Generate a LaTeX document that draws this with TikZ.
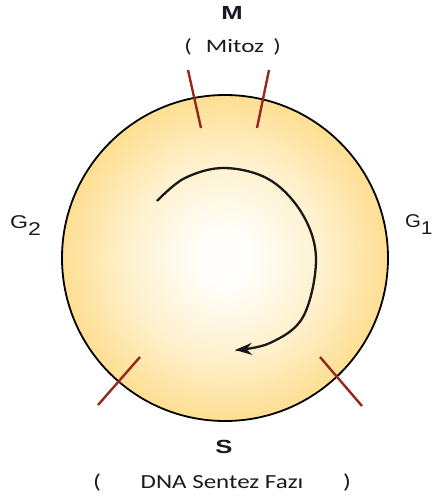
\documentclass[tikz,border=0pt]{standalone}
\usepackage{fontspec}
\usepackage{graphicx}
\setmainfont{Liberation Sans}
\newfontfamily\calfont{Carlito}
\usetikzlibrary{arrows.meta}
\definecolor{cellout}{RGB}{254,222,146}
\definecolor{cellmid}{RGB}{255,241,205}
\definecolor{cellin}{RGB}{255,254,250}
\definecolor{tickred}{RGB}{150,40,32}
\definecolor{txtcol}{RGB}{25,25,35}
\pgfdeclareradialshading{cellshade}{\pgfpoint{0bp}{0bp}}{color(0bp)=(cellin); color(4bp)=(cellin); color(15bp)=(cellmid); color(25bp)=(cellout); color(50bp)=(cellout)}
\tikzset{
  cell/.style={circle, draw=black, line width=1.8pt, inner sep=0pt, minimum size=326pt,
    shading=cellshade},
  tick/.style={draw=tickred, line width=2.4pt},
  lbl/.style={inner sep=0pt, text=txtcol, anchor=base},
  cyclearrow/.style={draw=black!90, line width=2.3pt, -{Stealth[length=17pt,width=12pt]}}
}
\begin{document}
\begin{tikzpicture}[x=1pt,y=-1pt]
\useasboundingbox (0,0) rectangle (435,499);
\node[cell] (cell) at (225,258) {};
% phase ticks
\draw[tick] (188,70) -- (201,128);
\draw[tick] (269,70) -- (257,128);
\draw[tick] (140,357) -- (98,405);
\draw[tick] (320,357) -- (362,406);
% cycle arrow
\draw[cyclearrow] plot[smooth, tension=0.6] coordinates {(157,201) (185,178) (225,168) (270,180) (303,215) (316,260) (303,317) (270,343) (235,350)};
% labels
\node[lbl, font=\fontsize{19}{19}\selectfont\bfseries] (m) at (232,19) {\scalebox{1.35}[1]{M}};
\node[lbl, font=\calfont\fontsize{19}{19}\selectfont] (lp1) at (188,52) {\scalebox{1.3}[1]{(}};
\node[lbl, font=\calfont\fontsize{19}{19}\selectfont] (mitoz) at (235,52) {\scalebox{1.32}[1]{Mitoz}};
\node[lbl, font=\calfont\fontsize{19}{19}\selectfont] (rp1) at (277,52) {\scalebox{1.3}[1]{)}};
\node[lbl, font=\fontsize{19}{19}\selectfont\bfseries] (s) at (224,453) {\scalebox{1.35}[1]{S}};
\node[lbl, font=\calfont\fontsize{20}{20}\selectfont] (lp2) at (97,488) {\scalebox{1.3}[1]{(}};
\node[lbl, font=\calfont\fontsize{20}{20}\selectfont] (dna) at (222,488) {\scalebox{1.25}[1]{DNA Sentez Fazı}};
\node[lbl, font=\calfont\fontsize{20}{20}\selectfont] (rp2) at (347,488) {\scalebox{1.3}[1]{)}};
\node[lbl, font=\fontsize{18.5}{18}\selectfont, anchor=base west] (g2) at (10,228) {\scalebox{1.25}[1]{G\raisebox{-7pt}{2}}};
\node[lbl, font=\fontsize{18.5}{18}\selectfont, anchor=base west] (g1) at (405,227) {\scalebox{1.1}[1]{G\raisebox{-7pt}{1}}};
\end{tikzpicture}
\end{document}
